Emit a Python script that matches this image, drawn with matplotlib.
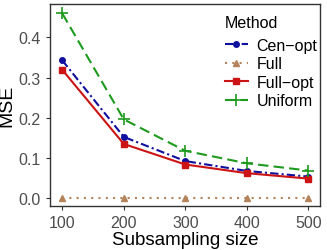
import matplotlib
matplotlib.use("Agg")
import matplotlib.pyplot as plt

plt.rcParams['font.family'] = ['Liberation Sans', 'DejaVu Sans']

sizes = [100, 200, 300, 400, 500]
cen_opt = [0.3425, 0.1525, 0.0925, 0.068, 0.054]
full = [0.001, 0.001, 0.001, 0.001, 0.001]
full_opt = [0.319, 0.135, 0.084, 0.0625, 0.049]
uniform = [0.459, 0.196, 0.118, 0.087, 0.069]
yticks = [0.0, 0.1, 0.2, 0.3, 0.4]

fig = plt.figure(figsize=(3.27, 2.51), dpi=100)
ax = fig.add_axes([50 / 327, 44 / 251, 270 / 327, 202 / 251])

ax.plot(sizes, cen_opt, color='#1010A0', linestyle=(0, (4, 1.5, 1, 1.5)), lw=1.5,
        marker='o', ms=4, label='Cen\u2212opt')
ax.plot(sizes, full, color='#B5835A', linestyle=(0, (1, 2.5)), lw=1.5,
        marker='^', ms=4.5, label='Full')
ax.plot(sizes, full_opt, color='#CC1414', linestyle='-', lw=1.5,
        marker='s', ms=3.8, label='Full\u2212opt')
ax.plot(sizes, uniform, color='#1E9A1E', linestyle=(0, (5, 2.5)), lw=1.5,
        marker='+', ms=8, mew=1.2, label='Uniform')

ax.set_xlim(80, 519)
ax.set_ylim(-0.019, 0.4825)
ax.set_xticks(sizes)
ax.set_yticks(yticks)
ax.set_yticklabels(['%.1f' % v for v in yticks])
ax.tick_params(colors='#333333', labelcolor='#4D4D4D', labelsize=11.5, length=3)
for s in ax.spines.values():
    s.set_color('#333333')
    s.set_linewidth(1.0)

ax.set_xlabel('Subsampling size', fontsize=13.5, labelpad=1)
ax.set_ylabel('MSE', fontsize=14, labelpad=2)

leg = ax.legend(title='Method', loc='upper right', frameon=False, fontsize=11.5,
                title_fontsize=11.5, handlelength=1.4, handletextpad=0.55,
                labelspacing=0.22, borderaxespad=0.2, bbox_to_anchor=(1.025, 0.995))
leg._legend_box.align = 'left'
leg._legend_box.sep = 6

fig.savefig('out.png', dpi=100)
